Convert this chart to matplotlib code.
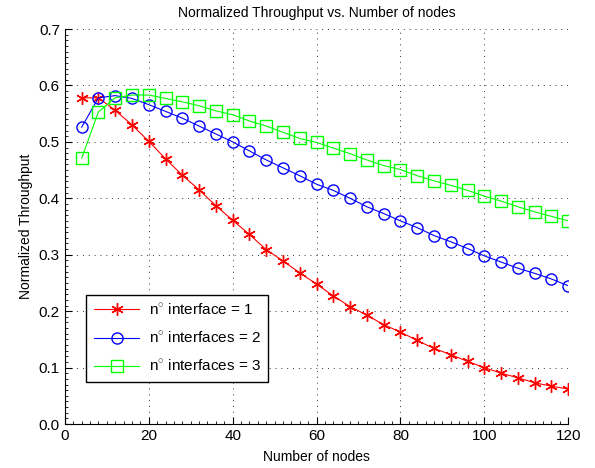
import matplotlib
matplotlib.use("Agg")
import matplotlib.pyplot as plt
from matplotlib.ticker import MultipleLocator

plt.rcParams['font.family'] = ['Liberation Sans', 'DejaVu Sans']
plt.rcParams['mathtext.fontset'] = 'custom'
plt.rcParams['mathtext.rm'] = 'Liberation Sans'

nodes = list(range(4, 121, 4))
tput_1 = [0.578, 0.578, 0.556, 0.530, 0.501, 0.470, 0.441, 0.415, 0.387, 0.361, 0.336,
          0.309, 0.289, 0.268, 0.248, 0.227, 0.208, 0.193, 0.176, 0.163, 0.148, 0.134,
          0.123, 0.111, 0.100, 0.090, 0.082, 0.073, 0.067, 0.062]
tput_2 = [0.526, 0.578, 0.582, 0.577, 0.566, 0.554, 0.542, 0.528, 0.514, 0.500, 0.484,
          0.468, 0.454, 0.440, 0.425, 0.414, 0.400, 0.385, 0.373, 0.360, 0.348, 0.334,
          0.323, 0.311, 0.298, 0.287, 0.276, 0.267, 0.257, 0.245]
tput_3 = [0.471, 0.553, 0.578, 0.583, 0.583, 0.577, 0.571, 0.564, 0.555, 0.548, 0.537,
          0.528, 0.517, 0.506, 0.499, 0.489, 0.479, 0.468, 0.458, 0.451, 0.440, 0.431,
          0.423, 0.414, 0.404, 0.395, 0.385, 0.376, 0.368, 0.360]
labels = [r"n$^{\circ}$ interface = 1", r"n$^{\circ}$ interfaces = 2", r"n$^{\circ}$ interfaces = 3"]

fig = plt.figure(figsize=(5.95, 4.68), dpi=100)
ax = fig.add_axes([0.109, 0.094, 0.846, 0.844])

ax.plot(nodes, tput_1, color='red', marker=(6, 2, 0), markersize=9, markeredgewidth=1.0,
        linewidth=0.8, label=labels[0])
ax.plot(nodes, tput_2, color='blue', marker='o', markersize=8, markerfacecolor='none',
        markeredgewidth=1.0, linewidth=0.8, label=labels[1])
ax.plot(nodes, tput_3, color='lime', marker='s', markersize=8, markerfacecolor='none',
        markeredgewidth=1.0, linewidth=0.8, label=labels[2])

ax.set_xlim(0, 120)
ax.set_ylim(0, 0.7)
ax.xaxis.set_major_locator(MultipleLocator(20))
ax.yaxis.set_major_locator(MultipleLocator(0.1))
ax.xaxis.set_minor_locator(MultipleLocator(2))
ax.yaxis.set_minor_locator(MultipleLocator(0.01))
ax.tick_params(which='both', direction='in', labelsize=11)
ax.tick_params(which='major', length=5)
ax.tick_params(which='minor', length=2.5)
ax.grid(True, which='major', linestyle=(0, (1, 5)), color='#333333', linewidth=0.7)
for s in ['top', 'right']:
    ax.spines[s].set_visible(False)

ax.set_title("Normalized Throughput vs. Number of nodes", fontsize=10, pad=9)
ax.set_xlabel("Number of nodes", fontsize=10, labelpad=5)
ax.set_ylabel("Normalized Throughput", fontsize=10)

leg = ax.legend(loc='lower left', bbox_to_anchor=(0.042, 0.107), fontsize=11,
                fancybox=False, framealpha=1, edgecolor='black', borderaxespad=0,
                handlelength=3.0, labelspacing=0.85, handletextpad=0.6, borderpad=0.5)
leg.get_frame().set_linewidth(1.0)

fig.savefig("out.png", dpi=100)
